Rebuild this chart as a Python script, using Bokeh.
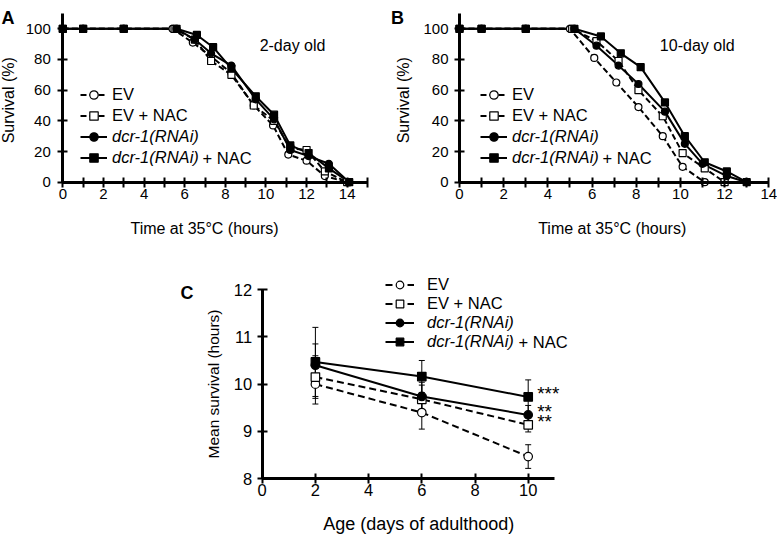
from bokeh.plotting import figure
from bokeh.layouts import column, row
from bokeh.models import (FixedTicker, Legend, LegendItem, Label, Whisker, TeeHead,
                          ColumnDataSource, Range1d)
from bokeh.embed import file_html
from bokeh.resources import INLINE

FONT = "Liberation Sans"

# ---------------- data ----------------
series_labels = ["EV", "EV + NAC", "dcr-1(RNAi)", "dcr-1(RNAi)"]
nac_suffix = "+ NAC"

# Panel A : 2-day old
a_t_ev = [0, 1, 3, 5.4, 6.4, 7.3, 8.3, 9.4, 10.35, 11.1, 12.0, 12.9, 14.0]
a_v_ev = [100, 100, 100, 100, 91, 82, 71, 50, 37, 18, 14, 4, 0]
a_t_evnac = [0, 1, 3, 5.5, 6.5, 7.3, 8.3, 9.4, 10.4, 11.2, 12.0, 12.9, 14.0]
a_v_evnac = [100, 100, 100, 100, 93, 79, 70, 50, 40, 22, 21, 7, 0]
a_t_dcr = [0, 1, 3, 5.6, 6.5, 7.3, 8.3, 9.5, 10.4, 11.2, 12.1, 13.1, 14.1]
a_v_dcr = [100, 100, 100, 100, 93, 84, 76, 54, 41, 21, 17, 12, 0]
a_t_dcrnac = [0, 1, 3, 5.6, 6.6, 7.4, 8.3, 9.5, 10.4, 11.2, 12.1, 13.1, 14.1]
a_v_dcrnac = [100, 100, 100, 100, 96, 88, 74, 56, 44, 24, 19, 9, 0]

# Panel B : 10-day old
b_t_ev = [0, 1, 3, 5.0, 6.1, 7.1, 8.1, 9.2, 10.1, 11.1, 12.0]
b_v_ev = [100, 100, 100, 100, 81, 65, 49, 30, 10, 0, 0]
b_t_evnac = [0, 1, 3, 5.1, 6.2, 7.2, 8.1, 9.2, 10.1, 11.1, 12.0]
b_v_evnac = [100, 100, 100, 100, 92, 79, 60, 43, 19, 9, 0]
b_t_dcr = [0, 1, 3, 5.2, 6.2, 7.2, 8.1, 9.3, 10.2, 11.0, 12.1, 13.0]
b_v_dcr = [100, 100, 100, 100, 89, 76, 64, 46, 25, 12, 4, 0]
b_t_dcrnac = [0, 1, 3, 5.2, 6.4, 7.3, 8.2, 9.3, 10.2, 11.1, 12.1, 13.0]
b_v_dcrnac = [100, 100, 100, 100, 95, 84, 75, 52, 30, 13, 7, 0]

# Panel C : mean survival vs age
c_days = [2, 6, 10]
c_ev = [10.0, 9.4, 8.47]
c_ev_err = [0.42, 0.35, 0.25]
c_evnac = [10.15, 9.68, 9.14]
c_evnac_err = [0.45, 0.30, 0.15]
c_dcr = [10.4, 9.74, 9.35]
c_dcr_err = [0.45, 0.30, 0.20]
c_dcrnac = [10.47, 10.16, 9.73]
c_dcrnac_err = [0.73, 0.34, 0.36]
c_star_text = ["***", "**", "**"]
c_star_y = [c_dcrnac[2], c_dcr[2], c_evnac[2]]

surv_ticks = [0, 20, 40, 60, 80, 100]
a_x_ticks = [0, 2, 4, 6, 8, 10, 12, 14]
a_x_minor = [1, 3, 5, 7, 9, 11, 13, 15]
b_x_ticks = [0, 2, 4, 6, 8, 10, 12, 14]
b_x_minor = [1, 3, 5, 7, 9, 11, 13]
c_x_ticks = [0, 2, 4, 6, 8, 10]
c_y_ticks = [8, 9, 10, 11, 12]

x_title_ab = "Time at 35°C (hours)"
y_title_ab = "Survival  (%)"
x_title_c = "Age (days of adulthood)"
y_title_c = "Mean survival (hours)"


def span(v_a, px_a, v_b, px_b, size):
    """Range whose values v_a / v_b fall at pixels px_a / px_b of a canvas of given size."""
    k = (px_b - px_a) / (v_b - v_a)
    lo = v_a - px_a / k
    hi = v_a + (size - px_a) / k
    return Range1d(min(lo, hi), max(lo, hi))


def base_fig(w, h, xr, yr):
    p = figure(width=w, height=h, x_range=xr, y_range=yr,
               output_backend="svg", toolbar_location=None, tools="",
               min_border_left=0, min_border_right=0,
               min_border_top=0, min_border_bottom=0)
    p.outline_line_color = None
    p.xgrid.visible = False
    p.ygrid.visible = False
    p.background_fill_color = "white"
    p.border_fill_color = "white"
    return p


def style_axis(ax, ticks, minor, bounds, loc, label, tick_fs, label_fs,
               tick_standoff, label_standoff):
    ax.ticker = FixedTicker(ticks=ticks, minor_ticks=minor)
    ax.bounds = bounds
    ax.fixed_location = loc
    if label:
        ax.axis_label = label
    ax.axis_line_width = 3
    ax.axis_line_color = "black"
    ax.major_tick_line_width = 2
    ax.minor_tick_line_width = 2
    ax.major_tick_line_color = "black"
    ax.minor_tick_line_color = "black"
    ax.major_tick_in = 5
    ax.major_tick_out = 5
    ax.minor_tick_in = 5
    ax.minor_tick_out = 5
    ax.major_label_text_font = FONT
    ax.major_label_text_font_size = tick_fs
    ax.major_label_text_color = "black"
    ax.major_label_standoff = tick_standoff
    ax.axis_label_text_font = FONT
    ax.axis_label_text_font_size = label_fs
    ax.axis_label_text_font_style = "normal"
    ax.axis_label_text_color = "black"
    ax.axis_label_standoff = label_standoff


def x_title(p, txt, x, y, fs):
    p.add_layout(Label(x=x, y=y, x_units="screen", y_units="screen", text=txt,
                       text_font=FONT, text_font_size=fs, text_align="center",
                       text_baseline="middle", text_color="black"))


def draw_series(p, series, size, lw):
    lines, marks = [], []
    for t, v, dash, marker, fill in series:
        lines.append(p.line(t, v, line_color="black", line_width=lw, line_dash=dash))
    for t, v, dash, marker, fill in series:
        marks.append(p.scatter(t, v, marker=marker, size=size, fill_color=fill,
                               line_color="black", line_width=1.2))
    return lines, marks


def add_legends(p, lines, marks, x, y1, y2, glyph_w, row_h, standoff, suf_x, suf_y):
    groups = (([0, 1], y1, "normal"), ([2, 3], y2, "italic"))
    for idx, yy, style in groups:
        items = [LegendItem(label=series_labels[i], renderers=[lines[i], marks[i]]) for i in idx]
        lg = Legend(items=items, location=(x, yy), orientation="vertical",
                    glyph_width=glyph_w, glyph_height=row_h, label_height=row_h,
                    label_standoff=standoff, spacing=0, padding=0, margin=0,
                    border_line_color=None, background_fill_alpha=0,
                    label_text_font=FONT, label_text_font_size="16.5px",
                    label_text_font_style=style, label_text_color="black")
        p.add_layout(lg)
    p.add_layout(Label(x=suf_x, y=suf_y, x_units="screen", y_units="screen",
                       text=nac_suffix, text_font=FONT, text_font_size="16.5px",
                       text_baseline="middle", text_align="left", text_color="black"))


def panel_letter(p, txt, x, y):
    p.add_layout(Label(x=x, y=y, x_units="screen", y_units="screen", text=txt,
                       text_font=FONT, text_font_size="18px", text_font_style="bold",
                       text_baseline="alphabetic", text_align="left", text_color="black"))


DASH_AB = "6 3"

# ---------------- Panel A ----------------
pA = base_fig(390, 250, span(0, 62.3, 14, 346.7, 390), span(100, 28.3, 0, 181.7, 250))
style_axis(pA.xaxis[0], a_x_ticks, a_x_minor, (0, 15), 0, None, "15px", "16px", 2, 13)
style_axis(pA.yaxis[0], surv_ticks, [], (0, 110), 0, y_title_ab, "15px", "16px", 7, 5)
lA, mA = draw_series(pA, [
    (a_t_ev, a_v_ev, DASH_AB, "circle", "white"),
    (a_t_evnac, a_v_evnac, DASH_AB, "square", "white"),
    (a_t_dcr, a_v_dcr, "solid", "circle", "black"),
    (a_t_dcrnac, a_v_dcrnac, "solid", "square", "black"),
], 7, 2)
add_legends(pA, lA, mA, 80, 124, 82, 27, 21, 5, 202, 93)
pA.add_layout(Label(x=11.31, y=89.1, text="2-day old", text_font=FONT, text_font_size="16px",
                    text_align="center", text_baseline="middle", text_color="black"))
x_title(pA, x_title_ab, 204, 22, "16px")
panel_letter(pA, "A", 1, 233)

# ---------------- Panel B ----------------
pB = base_fig(387, 250, span(0, 69, 14, 378.3, 387), span(100, 28.3, 0, 181.7, 250))
style_axis(pB.xaxis[0], b_x_ticks, b_x_minor, (0, 14), 0, None, "15px", "16px", 2, 13)
style_axis(pB.yaxis[0], surv_ticks, [], (0, 110), 0, y_title_ab, "15px", "16px", 6, 8)
lB, mB = draw_series(pB, [
    (b_t_ev, b_v_ev, DASH_AB, "circle", "white"),
    (b_t_evnac, b_v_evnac, DASH_AB, "square", "white"),
    (b_t_dcr, b_v_dcr, "solid", "circle", "black"),
    (b_t_dcrnac, b_v_dcrnac, "solid", "square", "black"),
], 7, 2)
add_legends(pB, lB, mB, 90, 124, 82, 27, 21, 5, 212, 93)
pB.add_layout(Label(x=10.76, y=89.1, text="10-day old", text_font=FONT, text_font_size="16px",
                    text_align="center", text_baseline="middle", text_color="black"))
x_title(pB, x_title_ab, 611.7 - 390, 22, "16px")
panel_letter(pB, "B", 0.5, 233)

# ---------------- Panel C ----------------
pC = base_fig(777, 284, span(0, 261.7, 10, 527.7, 777), span(12, 39, 8, 228.3, 284))
style_axis(pC.xaxis[0], c_x_ticks, [], (0, 11), 8, None, "16.5px", "18px", 0, 15)
style_axis(pC.yaxis[0], c_y_ticks, [], (8, 12), 0, y_title_c, "16.5px", "15.5px", 5, 9)

for mean, err in ((c_ev, c_ev_err), (c_evnac, c_evnac_err), (c_dcr, c_dcr_err), (c_dcrnac, c_dcrnac_err)):
    src = ColumnDataSource(dict(base=c_days,
                                upper=[m + e for m, e in zip(mean, err)],
                                lower=[m - e for m, e in zip(mean, err)]))
    pC.add_layout(Whisker(source=src, base="base", upper="upper", lower="lower",
                          dimension="height", line_color="black", line_width=1,
                          upper_head=TeeHead(size=6, line_width=1, line_color="black"),
                          lower_head=TeeHead(size=6, line_width=1, line_color="black"),
                          level="underlay"))

lC, mC = draw_series(pC, [
    (c_days, c_ev, "7 4", "circle", "white"),
    (c_days, c_evnac, "7 4", "square", "white"),
    (c_days, c_dcr, "solid", "circle", "black"),
    (c_days, c_dcrnac, "solid", "square", "black"),
], 8.5, 2)
add_legends(pC, lC, mC, 385, 221, 183, 29, 19, 13, 518, 192.5)

for txt, yy in zip(c_star_text, c_star_y):
    pC.add_layout(Label(x=10, y=yy, x_offset=9, y_offset=3, text=txt, text_font=FONT,
                        text_font_size="19px", text_align="left", text_baseline="middle",
                        text_color="black"))
x_title(pC, x_title_c, 418.3, 11, "18px")
panel_letter(pC, "C", 180, 242)

layout = column(row(pA, pB), pC)
open("out.html", "w").write(file_html(layout, INLINE))
